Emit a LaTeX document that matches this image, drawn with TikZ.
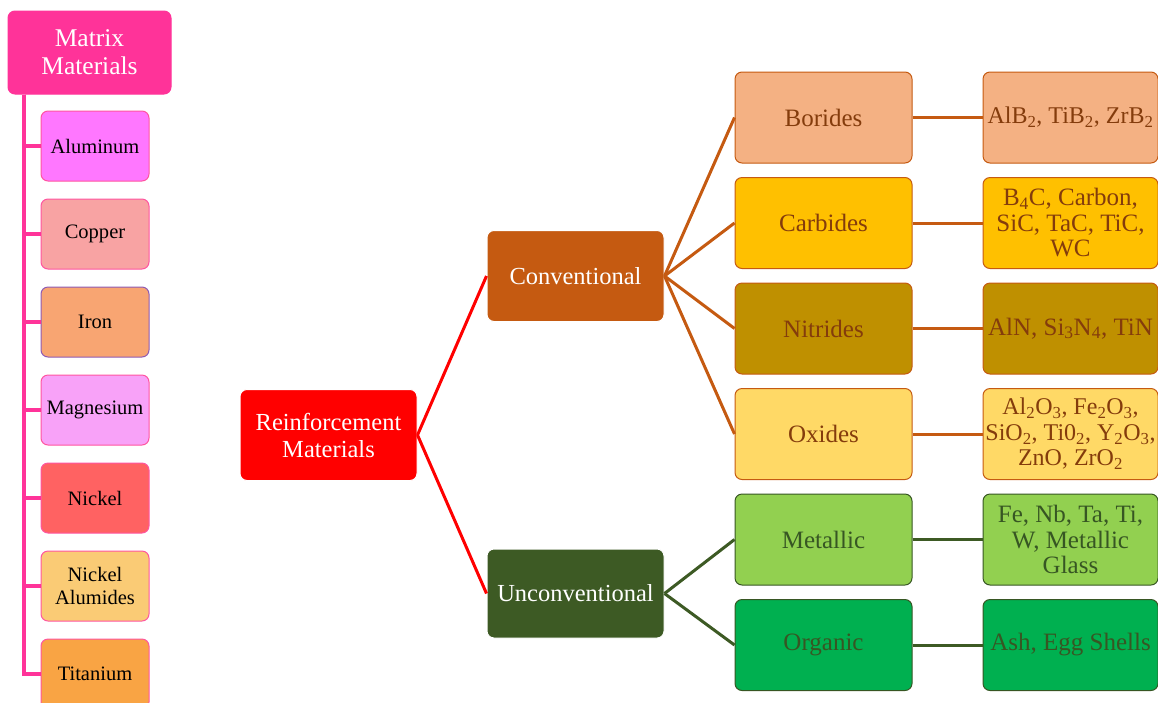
\documentclass[tikz,border=0pt]{standalone}
\usepackage{fontspec}
\setmainfont{Liberation Serif}
\usetikzlibrary{positioning}

\definecolor{matpink}{HTML}{FF3399}
\definecolor{edgepink}{HTML}{FF55A0}
\definecolor{alfill}{HTML}{FF77FF}
\definecolor{cufill}{HTML}{F8A3A3}
\definecolor{fefill}{HTML}{F8A572}
\definecolor{feedge}{HTML}{8E5BB5}
\definecolor{mgfill}{HTML}{F8A2F8}
\definecolor{nifill}{HTML}{FF6262}
\definecolor{nialfill}{HTML}{FACB75}
\definecolor{tifill}{HTML}{F9A444}
\definecolor{convfill}{HTML}{C55A11}
\definecolor{unconvfill}{HTML}{3D5A24}
\definecolor{borfill}{HTML}{F4B183}
\definecolor{carbfill}{HTML}{FFC000}
\definecolor{nitfill}{HTML}{BF9000}
\definecolor{oxfill}{HTML}{FFD966}
\definecolor{metfill}{HTML}{92D050}
\definecolor{orgfill}{HTML}{00B050}
\definecolor{browntext}{HTML}{843C0C}
\definecolor{greentext}{HTML}{375623}

\begin{document}
\begin{tikzpicture}[x=1pt,y=-1pt,
  box/.style={rectangle,rounded corners=7pt,line width=1pt,align=center,inner sep=2pt},
  matbox/.style={box,draw=edgepink,minimum width=108pt,minimum height=70pt,
    font=\fontsize{20.5}{23}\selectfont},
  headbox/.style={box,draw=white,text=white,minimum width=177pt,minimum height=91pt,
    font=\fontsize{24.5}{27}\selectfont},
  convbox/.style={box,draw=convfill,text=browntext,minimum width=177pt,minimum height=91pt,
    font=\fontsize{25}{25.5}\selectfont},
  unconvbox/.style={box,draw=greentext,text=greentext,minimum width=177pt,minimum height=91pt,
    font=\fontsize{25}{25.5}\selectfont},
  spine/.style={draw=matpink,line width=4pt},
  redline/.style={draw=red,line width=3pt},
  convline/.style={draw=convfill,line width=3pt},
  unconvline/.style={draw=unconvfill,line width=3pt}]
  \useasboundingbox (0,0) rectangle (1158,702);

  % matrix materials
  \node[box,fill=matpink,draw=matpink,text=white,minimum width=163pt,minimum height=83pt,
    font=\fontsize{25.5}{28}\selectfont] (mm) at (89.5,52.5) {Matrix\\Materials};
  \node[matbox,fill=alfill] (al) at (95,146) {Aluminum};
  \node[matbox,fill=cufill] (cu) [below=17pt of al] {Copper};
  \node[matbox,fill=fefill,draw=feedge] (fe) [below=17pt of cu] {Iron};
  \node[matbox,fill=mgfill] (mg) [below=17pt of fe] {Magnesium};
  \node[matbox,fill=nifill] (ni) [below=17pt of mg] {Nickel};
  \node[matbox,fill=nialfill] (nial) [below=17pt of ni] {Nickel\\Alumides};
  \node[matbox,fill=tifill] (ti) [below=17pt of nial] {Titanium};
  \coordinate (top) at ([xshift=16pt]mm.south west);
  \foreach \m in {al,cu,fe,mg,ni,nial,ti}
    \path[spine] (top) |- (\m.west);

  % reinforcement materials
  \node[headbox,fill=red] (rm) at (328.5,435) {Reinforcement\\Materials};
  \node[headbox,fill=convfill] (conv) at (575.5,276) {Conventional};
  \node[headbox,fill=unconvfill,minimum height=89pt] (unconv) at (575.5,593.5) {Unconventional};

  \node[convbox,fill=borfill] (bor) at (823.5,117.5) {Borides};
  \node[convbox,fill=carbfill] (carb) [below=13.5pt of bor] {Carbides};
  \node[convbox,fill=nitfill] (nit) [below=13.5pt of carb] {Nitrides};
  \node[convbox,fill=oxfill] (ox) [below=13.5pt of nit] {Oxides};
  \node[unconvbox,fill=metfill] (met) [below=13.5pt of ox] {Metallic};
  \node[unconvbox,fill=orgfill] (org) [below=13.5pt of met] {Organic};

  \node[convbox,fill=borfill,minimum width=175pt,inner sep=0pt,font=\fontsize{24}{25.5}\selectfont]
    (borx) [right=70pt of bor]
    {AlB\textsubscript{2}, TiB\textsubscript{2}, ZrB\textsubscript{2}};
  \node[convbox,fill=carbfill,minimum width=175pt] (carbx) [right=70pt of carb]
    {B\textsubscript{4}C, Carbon,\\SiC, TaC, TiC,\\WC};
  \node[convbox,fill=nitfill,minimum width=175pt] (nitx) [right=70pt of nit]
    {AlN, Si\textsubscript{3}N\textsubscript{4}, TiN};
  \node[convbox,fill=oxfill,minimum width=175pt,inner sep=0pt,font=\fontsize{24}{25.5}\selectfont]
    (oxx) [right=70pt of ox]
    {Al\textsubscript{2}O\textsubscript{3}, Fe\textsubscript{2}O\textsubscript{3},\\
     SiO\textsubscript{2}, Ti0\textsubscript{2}, Y\textsubscript{2}O\textsubscript{3},\\
     ZnO, ZrO\textsubscript{2}};
  \node[unconvbox,fill=metfill,minimum width=175pt] (metx) [right=70pt of met]
    {Fe, Nb, Ta, Ti,\\W, Metallic\\Glass};
  \node[unconvbox,fill=orgfill,minimum width=175pt] (orgx) [right=70pt of org]
    {Ash, Egg Shells};

  \path[redline] (rm.east) -- (conv.west);
  \path[redline] (rm.east) -- (unconv.west);
  \foreach \c in {bor,carb,nit,ox} {
    \path[convline] (conv.east) -- (\c.west);
    \path[convline] (\c.east) -- (\c x.west);
  }
  \foreach \c in {met,org} {
    \path[unconvline] (unconv.east) -- (\c.west);
    \path[unconvline] (\c.east) -- (\c x.west);
  }
\end{tikzpicture}
\end{document}
